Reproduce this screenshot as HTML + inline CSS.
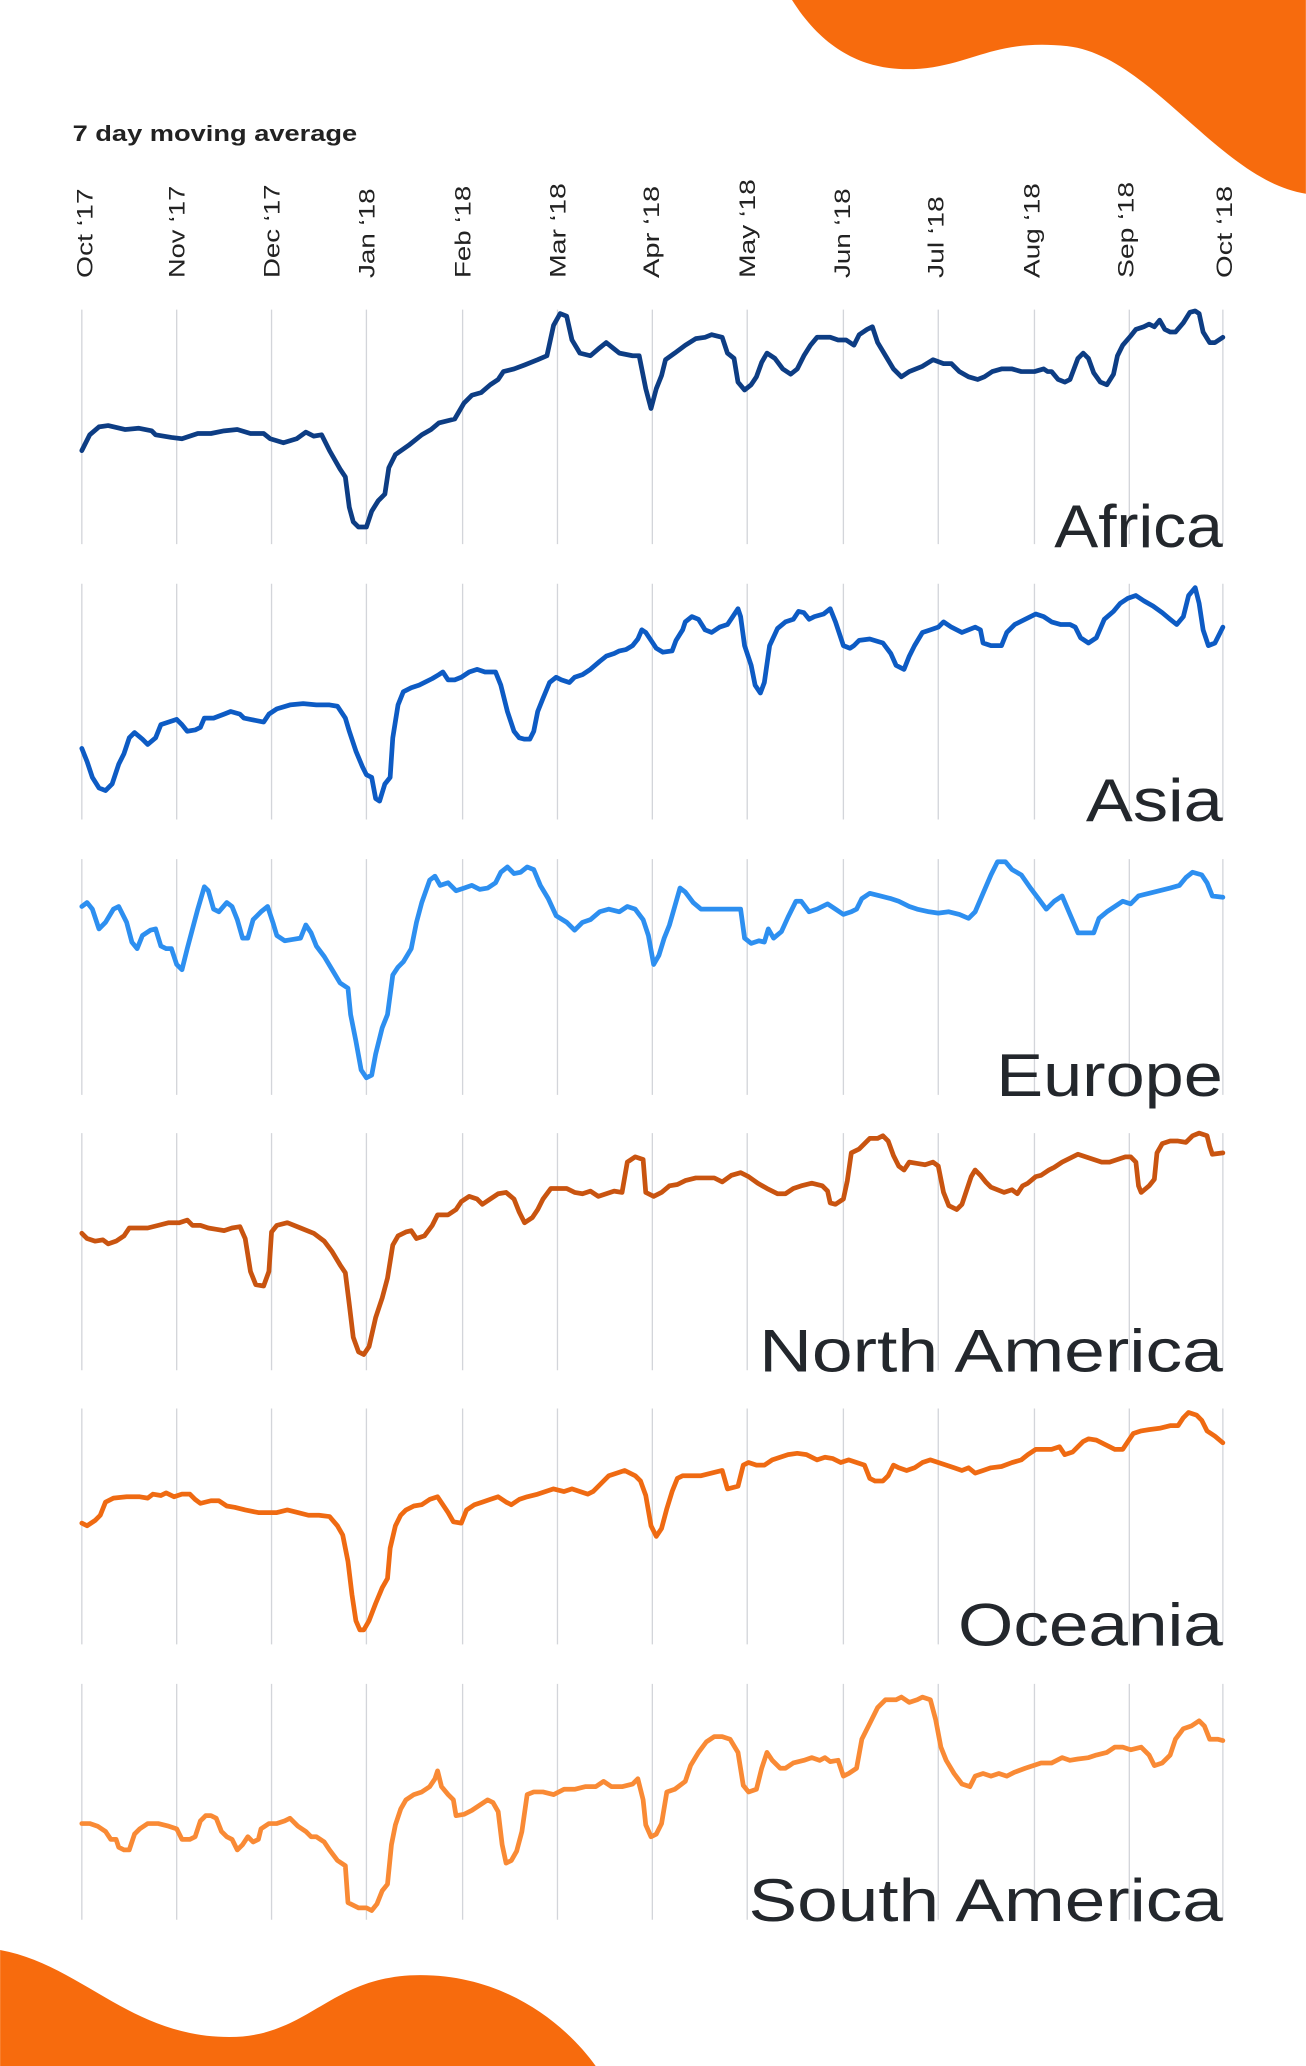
<!DOCTYPE html>
<html><head><meta charset="utf-8"><style>html,body{margin:0;padding:0;background:#fff}svg{display:block}</style></head><body>
<svg width="1306" height="2066" viewBox="0 0 991 1568" xmlns="http://www.w3.org/2000/svg" font-family="Liberation Sans, sans-serif">
<rect width="991" height="1568" fill="#fff"/>
<path d="M601,0 C630,46 668,57 708,51 C744,45 759,30 810,35 C873,42 926,137 991,147 L991,0 Z" fill="#f76b0d"/>
<path d="M0,1480 C61,1491 99,1546 174,1546 C235,1546 250,1499 319,1499 C387,1499 432,1540 452,1568 L0,1568 Z" fill="#f76b0d"/>
<text x="55" y="107" font-size="17" font-weight="bold" fill="#222" textLength="216" lengthAdjust="spacingAndGlyphs">7 day moving average</text>
<g font-size="17" fill="#222" text-anchor="start">
<text transform="translate(70,211) rotate(-90)" textLength="68" lengthAdjust="spacingAndGlyphs">Oct ‘17</text>
<text transform="translate(140,211) rotate(-90)" textLength="70" lengthAdjust="spacingAndGlyphs">Nov ‘17</text>
<text transform="translate(212,211) rotate(-90)" textLength="71" lengthAdjust="spacingAndGlyphs">Dec ‘17</text>
<text transform="translate(284,211) rotate(-90)" textLength="68" lengthAdjust="spacingAndGlyphs">Jan ‘18</text>
<text transform="translate(357,211) rotate(-90)" textLength="70" lengthAdjust="spacingAndGlyphs">Feb ‘18</text>
<text transform="translate(429,211) rotate(-90)" textLength="72" lengthAdjust="spacingAndGlyphs">Mar ‘18</text>
<text transform="translate(500,211) rotate(-90)" textLength="70" lengthAdjust="spacingAndGlyphs">Apr ‘18</text>
<text transform="translate(573,211) rotate(-90)" textLength="75" lengthAdjust="spacingAndGlyphs">May ‘18</text>
<text transform="translate(645,211) rotate(-90)" textLength="68" lengthAdjust="spacingAndGlyphs">Jun ‘18</text>
<text transform="translate(716,211) rotate(-90)" textLength="62" lengthAdjust="spacingAndGlyphs">Jul ‘18</text>
<text transform="translate(789,211) rotate(-90)" textLength="72" lengthAdjust="spacingAndGlyphs">Aug ‘18</text>
<text transform="translate(860,211) rotate(-90)" textLength="73" lengthAdjust="spacingAndGlyphs">Sep ‘18</text>
<text transform="translate(935,211) rotate(-90)" textLength="70" lengthAdjust="spacingAndGlyphs">Oct ‘18</text>
</g>
<g stroke="#d3d5da" stroke-width="1">
<path d="M62,235V413M134,235V413M206,235V413M278,235V413M351,235V413M423,235V413M495,235V413M567,235V413M640,235V413M712,235V413M785,235V413M857,235V413M928,235V413"/>
<path d="M62,443V622M134,443V622M206,443V622M278,443V622M351,443V622M423,443V622M495,443V622M567,443V622M640,443V622M712,443V622M785,443V622M857,443V622M928,443V622"/>
<path d="M62,652V831M134,652V831M206,652V831M278,652V831M351,652V831M423,652V831M495,652V831M567,652V831M640,652V831M712,652V831M785,652V831M857,652V831M928,652V831"/>
<path d="M62,860V1040M134,860V1040M206,860V1040M278,860V1040M351,860V1040M423,860V1040M495,860V1040M567,860V1040M640,860V1040M712,860V1040M785,860V1040M857,860V1040M928,860V1040"/>
<path d="M62,1069V1248M134,1069V1248M206,1069V1248M278,1069V1248M351,1069V1248M423,1069V1248M495,1069V1248M567,1069V1248M640,1069V1248M712,1069V1248M785,1069V1248M857,1069V1248M928,1069V1248"/>
<path d="M62,1278V1457M134,1278V1457M206,1278V1457M278,1278V1457M351,1278V1457M423,1278V1457M495,1278V1457M567,1278V1457M640,1278V1457M712,1278V1457M785,1278V1457M857,1278V1457M928,1278V1457"/>
</g>
<g fill="#23272c" font-size="46" text-anchor="end">
<text x="928" y="415" textLength="128" lengthAdjust="spacingAndGlyphs">Africa</text>
<text x="928" y="623" textLength="104" lengthAdjust="spacingAndGlyphs">Asia</text>
<text x="928" y="832" textLength="172" lengthAdjust="spacingAndGlyphs">Europe</text>
<text x="928" y="1041" textLength="352" lengthAdjust="spacingAndGlyphs">North America</text>
<text x="928" y="1249" textLength="201" lengthAdjust="spacingAndGlyphs">Oceania</text>
<text x="928" y="1458" textLength="360" lengthAdjust="spacingAndGlyphs">South America</text>
</g>
<g fill="none" stroke-width="3.6" stroke-linejoin="round" stroke-linecap="round">
<polyline stroke="#0d3d84" points="62,342 68,330 75,324 82,323 95,326 105,325 115,327 118,330 130,332 138,333 150,329 160,329 170,327 180,326 190,329 200,329 205,333 215,336 225,333 232,328 238,331 244,330 250,342 258,356 262,362 265,385 268,396 272,400 278,400 282,388 287,380 292,375 295,355 300,345 310,338 320,330 327,326 333,321 345,318 352,306 358,300 365,298 372,292 378,288 382,282 390,280 398,277 408,273 415,270 420,247 425,238 430,240 434,258 440,268 448,270 455,264 460,260 465,264 470,268 480,270 485,270 490,295 494,310 498,295 502,285 505,273 512,268 520,262 528,257 535,256 540,254 548,256 552,268 557,272 560,290 565,296 570,292 574,286 578,275 582,268 588,272 594,280 600,284 605,280 610,270 615,262 620,256 630,256 636,258 642,258 648,262 652,254 658,250 662,248 666,260 672,270 678,280 684,286 690,282 700,278 708,273 716,276 722,276 728,282 735,286 742,288 747,286 753,282 760,280 768,280 775,282 785,282 792,280 795,282 798,282 803,288 808,290 812,288 815,280 818,272 822,268 826,272 830,283 835,290 840,292 845,284 848,270 852,262 858,255 862,250 868,248 872,246 876,248 880,243 884,250 888,252 892,252 898,245 903,237 907,236 910,238 913,252 918,260 922,260 928,256"/>
<polyline stroke="#0d5bc4" points="62,568 66,578 70,590 75,598 80,600 85,595 90,580 94,572 98,560 102,556 108,561 112,565 118,560 122,550 128,548 134,546 138,550 142,555 148,554 152,552 155,545 162,545 170,542 175,540 182,542 185,545 190,546 200,548 204,542 210,538 220,535 230,534 240,535 250,535 256,536 262,545 265,555 270,570 275,582 278,588 282,590 285,606 288,608 292,595 296,590 298,560 302,535 306,525 312,522 318,520 322,518 328,515 333,512 336,510 340,516 345,516 350,514 356,510 362,508 368,510 376,510 380,520 385,540 390,555 394,560 398,561 402,561 405,555 408,540 412,530 417,518 422,514 426,516 432,518 436,514 442,512 448,508 455,502 460,498 466,496 470,494 475,493 480,490 484,485 487,478 490,480 494,486 498,492 503,495 510,494 513,486 518,478 520,472 525,468 530,470 535,478 540,480 546,476 552,474 556,468 560,462 562,468 565,490 570,505 573,520 577,526 580,518 584,490 590,477 596,472 602,470 606,464 610,465 614,470 618,468 625,466 630,462 634,472 640,490 645,492 648,490 652,486 660,485 670,488 676,496 680,505 686,508 690,498 694,490 700,480 706,478 712,476 716,472 722,476 730,480 735,478 740,476 744,478 746,488 752,490 760,490 764,480 770,474 778,470 786,466 792,468 798,472 805,474 812,474 816,476 820,484 826,488 832,484 838,470 845,464 850,458 856,454 862,452 868,456 875,460 882,465 888,470 893,474 898,468 902,452 907,446 910,458 913,478 917,490 922,488 928,476"/>
<polyline stroke="#2d8ff0" points="62,688 66,685 70,690 75,705 80,700 86,690 90,688 96,700 100,715 104,720 108,710 114,706 118,705 122,718 126,720 130,720 134,732 138,736 142,720 146,705 150,690 155,673 158,676 162,690 166,692 172,685 176,688 180,698 184,712 188,712 192,698 198,692 203,688 207,700 210,710 216,714 222,713 228,712 232,702 236,708 240,718 246,726 252,736 258,746 264,750 266,770 270,790 274,812 278,818 282,816 285,800 290,780 294,770 298,740 302,734 306,730 312,720 316,700 320,685 326,668 330,665 334,672 340,670 346,676 352,674 358,672 364,675 370,674 376,670 380,662 385,658 390,663 395,662 400,658 405,660 410,672 416,682 422,695 430,700 436,706 442,700 448,698 455,692 462,690 470,692 476,688 482,690 488,698 492,710 496,732 500,725 504,712 508,702 512,688 516,674 520,677 526,685 532,690 540,690 548,690 556,690 562,690 565,712 570,716 576,714 580,715 583,705 587,712 593,707 598,696 604,684 608,684 614,692 620,690 628,686 634,690 640,694 646,692 650,690 654,682 660,678 668,680 676,682 682,684 690,688 696,690 705,692 712,693 720,692 728,694 735,697 740,692 746,678 752,664 757,654 763,654 768,660 775,664 782,674 788,682 794,690 800,684 806,680 812,694 818,708 824,708 830,708 834,697 840,692 846,688 852,684 858,686 864,680 872,678 880,676 888,674 895,672 900,666 905,662 912,664 916,670 920,680 928,681"/>
<polyline stroke="#c95410" points="62,936 66,940 72,942 78,941 82,944 88,942 94,938 98,932 104,932 112,932 120,930 128,928 136,928 142,926 146,930 152,930 158,932 164,933 170,934 176,932 182,931 186,940 190,965 194,975 200,976 204,965 206,935 210,930 218,928 228,932 238,936 246,942 252,950 258,960 262,966 265,990 268,1015 272,1026 276,1028 280,1022 285,1000 290,985 294,970 298,945 302,938 308,935 312,934 316,940 322,938 328,930 332,922 340,922 346,918 350,912 356,908 362,910 366,914 372,910 378,906 384,905 390,910 394,920 398,928 404,924 408,918 412,910 418,902 424,902 430,902 436,905 442,906 448,904 454,908 460,906 466,904 472,905 476,882 482,878 488,880 490,905 496,908 502,905 508,900 514,899 520,896 528,894 535,894 542,894 548,897 555,892 562,890 568,893 575,898 582,902 590,906 596,906 602,902 608,900 616,898 624,900 628,904 630,913 634,914 640,910 643,896 646,875 652,872 656,868 660,864 666,864 670,862 674,866 678,877 682,885 686,888 690,882 696,883 702,884 708,882 712,885 716,905 720,915 726,918 730,914 733,905 737,893 740,888 744,892 748,897 752,901 757,903 762,905 768,903 772,906 776,900 780,898 786,893 790,892 796,888 800,886 806,882 814,878 818,876 824,878 830,880 836,882 842,882 848,880 854,878 858,878 862,882 864,900 866,905 872,900 876,895 878,875 882,868 888,866 894,866 900,867 905,862 910,860 916,862 918,870 920,876 928,875"/>
<polyline stroke="#ef6a12" points="62,1156 66,1158 72,1154 76,1150 80,1140 86,1137 96,1136 106,1136 112,1137 116,1134 122,1135 126,1133 132,1136 138,1134 144,1134 148,1138 152,1141 160,1139 166,1139 172,1143 178,1144 186,1146 196,1148 204,1148 210,1148 218,1146 226,1148 234,1150 242,1150 250,1151 256,1158 260,1165 264,1185 267,1210 270,1230 273,1237 276,1237 280,1230 285,1217 290,1205 294,1198 296,1175 300,1158 304,1150 308,1146 314,1143 320,1142 326,1138 332,1136 336,1142 340,1148 344,1155 350,1156 354,1146 360,1142 366,1140 372,1138 378,1136 384,1140 388,1142 394,1138 400,1136 408,1134 414,1132 420,1130 428,1132 434,1130 440,1132 446,1134 450,1132 456,1126 462,1120 468,1118 474,1116 478,1118 482,1120 486,1124 490,1135 494,1158 498,1166 502,1160 506,1145 510,1132 514,1122 518,1120 524,1120 532,1120 540,1118 548,1116 552,1130 560,1128 564,1112 568,1110 574,1112 580,1112 586,1108 592,1106 598,1104 605,1103 612,1104 620,1108 626,1106 632,1107 638,1110 644,1108 650,1110 656,1112 660,1122 664,1124 670,1124 674,1120 678,1112 682,1114 688,1116 694,1114 700,1110 706,1108 712,1110 718,1112 724,1114 730,1116 735,1114 740,1118 746,1116 752,1114 760,1113 768,1110 775,1108 780,1104 786,1100 792,1100 798,1100 804,1098 808,1104 814,1102 818,1098 822,1094 826,1092 832,1093 838,1096 846,1100 852,1100 856,1094 860,1088 866,1086 872,1085 880,1084 888,1082 894,1082 898,1076 902,1072 908,1074 912,1078 916,1086 922,1090 928,1095"/>
<polyline stroke="#f98a35" points="62,1384 68,1384 74,1386 80,1390 84,1396 88,1396 90,1402 94,1404 98,1404 102,1392 106,1388 112,1384 120,1384 128,1386 134,1388 138,1396 144,1396 148,1394 152,1382 156,1378 160,1378 164,1380 168,1390 172,1394 176,1396 180,1404 184,1400 188,1394 192,1398 196,1396 198,1388 204,1384 210,1384 216,1382 220,1380 226,1386 232,1390 236,1394 240,1394 246,1398 250,1404 256,1412 262,1416 264,1444 268,1446 272,1448 278,1448 282,1450 286,1445 290,1435 294,1430 297,1400 300,1385 304,1373 308,1366 314,1362 320,1360 326,1356 330,1350 332,1344 335,1356 340,1362 344,1366 346,1378 352,1377 358,1374 364,1370 370,1366 374,1368 378,1375 381,1400 384,1414 388,1412 392,1405 396,1390 400,1362 405,1360 412,1360 420,1362 428,1358 436,1358 444,1356 452,1356 458,1352 464,1356 472,1356 480,1354 484,1350 488,1366 490,1385 494,1394 498,1392 502,1384 506,1360 512,1358 520,1352 524,1340 530,1330 536,1322 542,1318 548,1318 554,1320 560,1330 564,1355 568,1360 574,1358 578,1342 582,1330 586,1336 592,1342 596,1342 602,1338 610,1336 616,1334 622,1336 626,1334 630,1337 636,1336 640,1348 644,1346 650,1342 654,1320 660,1308 666,1296 672,1290 680,1290 684,1288 690,1292 696,1290 700,1288 706,1290 710,1305 714,1326 718,1336 724,1346 730,1354 736,1356 740,1348 746,1346 752,1348 758,1346 764,1348 770,1345 778,1342 784,1340 790,1338 798,1338 806,1334 812,1336 818,1335 826,1334 832,1332 840,1330 846,1326 852,1326 858,1328 866,1326 872,1332 876,1340 882,1338 888,1332 892,1320 898,1312 904,1310 910,1306 914,1310 918,1320 924,1320 928,1321"/>
</g>
</svg>
</body></html>
